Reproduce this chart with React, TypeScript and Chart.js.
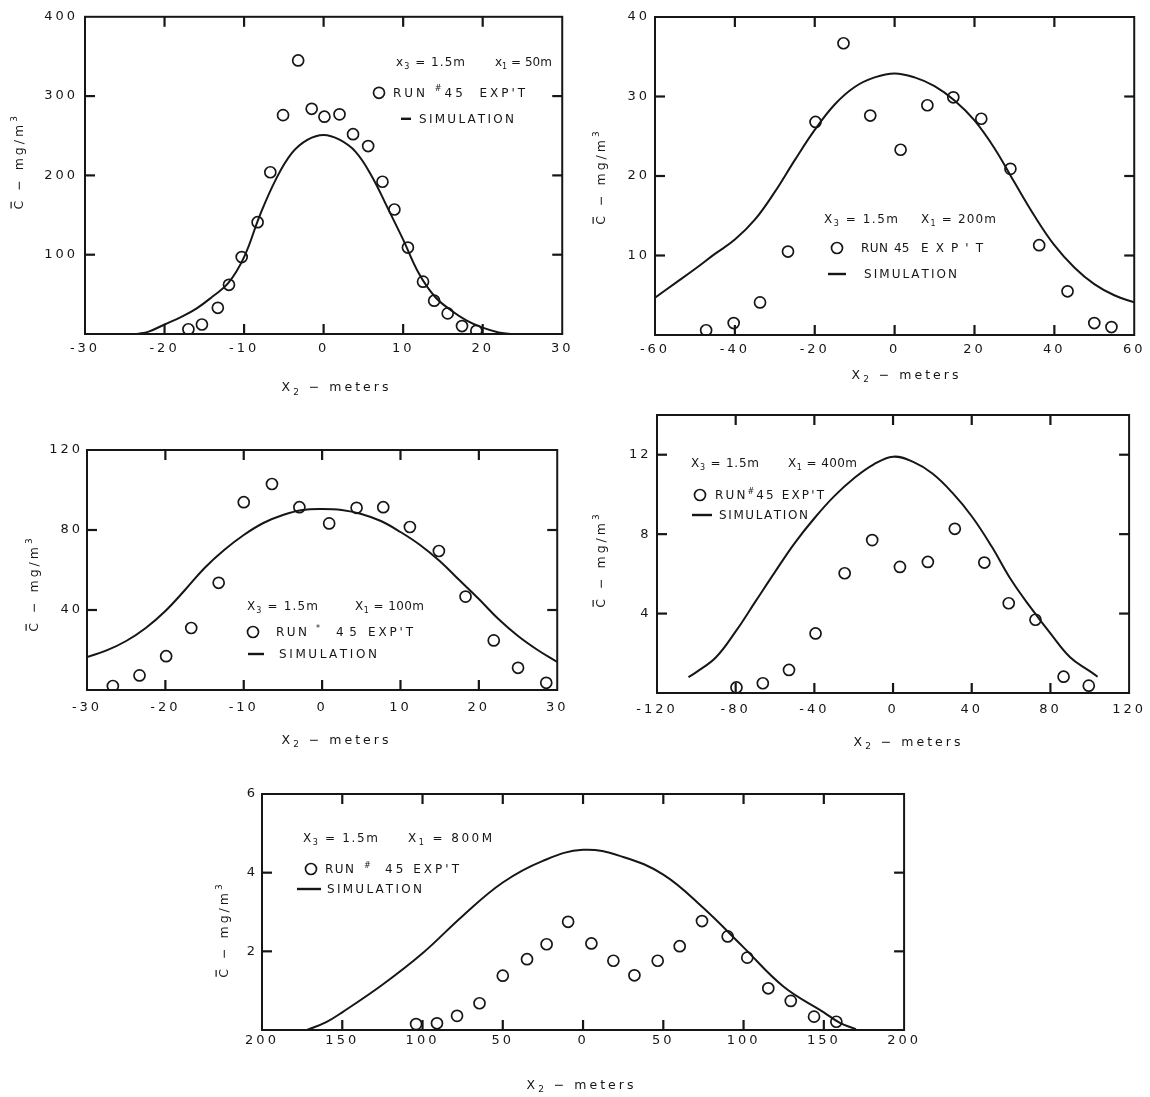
import React, { useEffect, useRef } from "react";
import { Chart, registerables } from "chart.js";

Chart.register(...registerables);

// ===== Panel A : x1 = 50 m =====
const aExpX = [-17.0, -15.3, -13.3, -11.9, -10.3, -8.3, -6.7, -5.1, -3.2, -1.5, 0.1, 2.0, 3.7, 5.6, 7.4, 8.9, 10.6, 12.5, 13.9, 15.6, 17.4, 19.2];
const aExpY = [6, 12, 33, 62, 97, 141, 204, 276, 345, 284, 274, 277, 252, 237, 192, 157, 109, 66, 42, 26, 10, 4];
const aSimX = [-23.5, -22, -20, -18, -16, -14, -12, -10, -8, -6, -4, -2, 0, 2, 4, 6, 8, 10, 12, 14, 16, 18, 20, 22, 23.5];
const aSimY = [0, 3, 12, 21, 32, 47, 64, 97, 150, 195, 228, 245, 251, 245, 230, 200, 160, 119, 76, 47, 30, 17, 8, 2, 0];
const aXTicks = [-30, -20, -10, 0, 10, 20, 30];
const aYTicks = [100, 200, 300, 400];

// ===== Panel B : x1 = 200 m =====
const bExpX = [-47.2, -40.3, -33.7, -26.7, -19.8, -12.8, -6.1, 1.5, 8.2, 14.7, 21.7, 29.0, 36.2, 43.3, 50.0, 54.3];
const bExpY = [0.6, 1.5, 4.1, 10.5, 26.8, 36.7, 27.6, 23.3, 28.9, 29.9, 27.2, 20.9, 11.3, 5.5, 1.5, 1.0];
const bSimX = [-60, -55, -50, -45, -40, -35, -30, -25, -20, -15, -10, -5, 0, 5, 10, 15, 20, 25, 30, 35, 40, 45, 50, 55, 60];
const bSimY = [4.7, 6.5, 8.3, 10.2, 12.0, 14.5, 18.0, 22.0, 25.8, 29.0, 31.2, 32.4, 32.9, 32.4, 31.3, 29.5, 27.0, 23.5, 19.2, 15.0, 11.3, 8.5, 6.4, 5.0, 4.1];
const bXTicks = [-60, -40, -20, 0, 20, 40, 60];
const bYTicks = [10, 20, 30, 40];

// ===== Panel C : x1 = 100 m =====
const cExpX = [-26.7, -23.3, -19.9, -16.7, -13.2, -10.0, -6.4, -2.9, 0.9, 4.4, 7.8, 11.2, 14.9, 18.3, 21.9, 25.0, 28.6];
const cExpY = [2.0, 7.3, 16.9, 31.0, 53.6, 93.9, 103, 91.4, 83.3, 91.1, 91.4, 81.5, 69.5, 46.7, 24.8, 11.1, 3.6];
const cSimX = [-30, -27.5, -25, -22.5, -20, -17.5, -15, -12.5, -10, -7.5, -5, -2.5, 0, 2.5, 5, 7.5, 10, 12.5, 15, 17.5, 20, 22.5, 25, 27.5, 30];
const cSimY = [16.5, 19.8, 24.5, 31, 39.5, 50, 61, 70, 77.5, 83.5, 87.5, 90, 90.5, 90, 88, 84.5, 79, 72.5, 64.5, 55, 45.5, 35.5, 27, 20, 14];
const cXTicks = [-30, -20, -10, 0, 10, 20, 30];
const cYTicks = [40, 80, 120];

// ===== Panel D : x1 = 400 m =====
const dExpX = [-79.6, -66.2, -52.9, -39.4, -24.6, -10.6, 3.5, 17.7, 31.4, 46.4, 58.8, 72.4, 86.7, 99.5];
const dExpY = [0.28, 0.49, 1.16, 3.0, 6.03, 7.7, 6.35, 6.6, 8.27, 6.57, 4.52, 3.69, 0.82, 0.37];
const dSimX = [-104, -100, -90, -80, -70, -60, -50, -40, -30, -20, -10, 0, 10, 20, 30, 40, 50, 60, 70, 80, 90, 100, 104];
const dSimY = [0.8, 1.05, 1.8, 3.1, 4.6, 6.1, 7.55, 8.8, 9.9, 10.8, 11.5, 11.9, 11.65, 11.05, 10.1, 8.9, 7.4, 5.7, 4.3, 3.0, 1.8, 1.1, 0.82];
const dXTicks = [-120, -80, -40, 0, 40, 80, 120];
const dYTicks = [4, 8, 12];

// ===== Panel E : x1 = 800 m =====
const eExpX = [-104, -91, -78.5, -64.5, -50, -34.9, -22.7, -9.3, 5.2, 18.9, 32, 46.5, 60.2, 74.1, 90.1, 102.3, 115.4, 129.4, 143.9, 157.8];
const eExpY = [0.15, 0.17, 0.36, 0.68, 1.38, 1.8, 2.18, 2.75, 2.2, 1.76, 1.39, 1.76, 2.13, 2.77, 2.38, 1.84, 1.06, 0.74, 0.34, 0.21];
const eSimX = [-172, -160, -150, -125, -100, -75, -50, -25, 0, 25, 50, 75, 100, 125, 150, 160, 170];
const eSimY = [0, 0.2, 0.45, 1.15, 1.95, 2.9, 3.75, 4.3, 4.58, 4.4, 3.95, 3.1, 2.1, 1.1, 0.45, 0.18, 0.02];
const eXTicks = [-200, -150, -100, -50, 0, 50, 100, 150, 200];
const eYTicks = [2, 4, 6];

const X_TITLE = "X_2 \u2212 meters";
const Y_TITLE = "C \u2212 mg/m^3";

const INK = "#161616";
const FONT = "DejaVu Sans";

// canvas frame sizes around each plot area
const W = 80; // y axis box width
const PT = 14; // top padding
const PR = 14; // right padding
const H = 72; // x axis box height

type Note =
  | { k: "t"; dx: number; dy: number; s: string; w?: number }
  | { k: "o"; dx: number; dy: number }
  | { k: "d"; dx: number; dy: number; len: number };

interface Cfg {
  rect: number[];
  xMin: number;
  xMax: number;
  yMin: number;
  yMax: number;
  xTicks: number[];
  yTicks: number[];
  expX: number[];
  expY: number[];
  simX: number[];
  simY: number[];
  absX?: boolean;
  yTitlePos: number[]; // offset from plot left/top
  xTitlePos: number[];
  xTickPad: number;
  yTickPad: number;
  notes: Note[];
}

const panels: Cfg[] = [
  {
    rect: [85, 16, 563, 334],
    xMin: -30, xMax: 30, yMin: 0, yMax: 400,
    xTicks: aXTicks, yTicks: aYTicks,
    expX: aExpX, expY: aExpY, simX: aSimX, simY: aSimY,
    yTitlePos: [-67, 146], xTitlePos: [250, 370], xTickPad: 6.5, yTickPad: 7,
    notes: [
      { k: "t", dx: 311, dy: 45, s: "x_3 = 1.5m", w: 69 },
      { k: "t", dx: 410, dy: 45, s: "x_1 = 50m", w: 54 },
      { k: "o", dx: 294, dy: 76 },
      { k: "t", dx: 308, dy: 76, s: "RUN ^#45  EXP'T", w: 132 },
      { k: "d", dx: 316, dy: 102, len: 10 },
      { k: "t", dx: 334, dy: 102, s: "SIMULATION", w: 95 },
    ],
  },
  {
    rect: [655, 17, 1135, 335],
    xMin: -60, xMax: 60, yMin: 0, yMax: 40,
    xTicks: bXTicks, yTicks: bYTicks,
    expX: bExpX, expY: bExpY, simX: bSimX, simY: bSimY,
    yTitlePos: [-55, 161], xTitlePos: [250, 357], xTickPad: 6.5, yTickPad: 5,
    notes: [
      { k: "t", dx: 169, dy: 202, s: "X_3 = 1.5m", w: 74 },
      { k: "t", dx: 266, dy: 202, s: "X_1 = 200m", w: 75 },
      { k: "o", dx: 182, dy: 231 },
      { k: "t", dx: 206, dy: 231, s: "RUN", w: 27 },
      { k: "t", dx: 239, dy: 231, s: "45", w: 14 },
      { k: "t", dx: 266, dy: 231, s: "EXP'T", w: 62 },
      { k: "d", dx: 173, dy: 257, len: 18 },
      { k: "t", dx: 209, dy: 257, s: "SIMULATION", w: 93 },
    ],
  },
  {
    rect: [87, 450, 561, 690],
    xMin: -30, xMax: 30, yMin: 0, yMax: 120,
    xTicks: cXTicks, yTicks: cYTicks,
    expX: cExpX, expY: cExpY, simX: cSimX, simY: cSimY,
    yTitlePos: [-54, 135], xTitlePos: [248, 289], xTickPad: 9.5, yTickPad: 4,
    notes: [
      { k: "t", dx: 160, dy: 156, s: "X_3 = 1.5m", w: 71 },
      { k: "t", dx: 268, dy: 156, s: "X_1 = 100m", w: 69 },
      { k: "o", dx: 166, dy: 182 },
      { k: "t", dx: 189, dy: 182, s: "RUN", w: 31 },
      { k: "t", dx: 229, dy: 182, s: "^*" },
      { k: "t", dx: 249, dy: 182, s: "45", w: 21 },
      { k: "t", dx: 281, dy: 182, s: "EXP'T", w: 45 },
      { k: "d", dx: 161, dy: 204, len: 16 },
      { k: "t", dx: 192, dy: 204, s: "SIMULATION", w: 98 },
    ],
  },
  {
    rect: [657, 415, 1136, 693],
    xMin: -120, xMax: 120, yMin: 0, yMax: 14,
    xTicks: dXTicks, yTicks: dYTicks,
    expX: dExpX, expY: dExpY, simX: dSimX, simY: dSimY,
    yTitlePos: [-57, 146], xTitlePos: [250, 326], xTickPad: 8.5, yTickPad: 5.5,
    notes: [
      { k: "t", dx: 34, dy: 48, s: "X_3 = 1.5m", w: 68 },
      { k: "t", dx: 131, dy: 48, s: "X_1 = 400m", w: 69 },
      { k: "o", dx: 43, dy: 80 },
      { k: "t", dx: 58, dy: 80, s: "RUN^#45 EXP'T", w: 109 },
      { k: "d", dx: 35, dy: 100, len: 20 },
      { k: "t", dx: 62, dy: 100, s: "SIMULATION", w: 89 },
    ],
  },
  {
    rect: [262, 794, 905, 1030],
    xMin: -200, xMax: 200, yMin: 0, yMax: 6,
    xTicks: eXTicks, yTicks: eYTicks,
    expX: eExpX, expY: eExpY, simX: eSimX, simY: eSimY,
    absX: true,
    yTitlePos: [-39, 137], xTitlePos: [318, 290], xTickPad: 2.5, yTickPad: 4,
    notes: [
      { k: "t", dx: 41, dy: 44, s: "X_3 = 1.5m", w: 75 },
      { k: "t", dx: 146, dy: 44, s: "X_1 = 800M", w: 84 },
      { k: "o", dx: 49, dy: 75 },
      { k: "t", dx: 63, dy: 75, s: "RUN", w: 29 },
      { k: "t", dx: 102, dy: 75, s: "^#" },
      { k: "t", dx: 123, dy: 75, s: "45 EXP'T", w: 74 },
      { k: "d", dx: 35, dy: 95, len: 24 },
      { k: "t", dx: 65, dy: 95, s: "SIMULATION", w: 95 },
    ],
  },
];

type Glyph = { c: string; m: number };

function parse(s: string): Glyph[] {
  const out: Glyph[] = [];
  let i = 0;
  while (i < s.length) {
    const ch = s[i];
    if ((ch === "_" || ch === "^") && i + 1 < s.length) {
      out.push({ c: s[i + 1], m: ch === "_" ? 1 : 2 });
      i += 2;
    } else {
      out.push({ c: ch, m: 0 });
      i += 1;
    }
  }
  return out;
}

function glyphFont(fs: number, m: number) {
  return `${m === 0 ? fs : Math.round(fs * 0.68)}px "${FONT}"`;
}

// draws text starting at x, vertically centred on y; letter spacing given or fitted to width w
function drawSpaced(
  ctx: CanvasRenderingContext2D,
  x: number,
  y: number,
  s: string,
  fs: number,
  ls: number,
  w?: number
) {
  const gl = parse(s);
  const widths = gl.map((g) => {
    ctx.font = glyphFont(fs, g.m);
    return ctx.measureText(g.c).width;
  });
  const natural = widths.reduce((p, v) => p + v, 0);
  let sp = ls;
  if (w !== undefined && gl.length > 1) sp = Math.max(0, (w - natural) / (gl.length - 1));
  let cx = x;
  gl.forEach((g, i) => {
    ctx.font = glyphFont(fs, g.m);
    const off = g.m === 0 ? fs * 0.36 : g.m === 1 ? fs * 0.62 : -fs * 0.12;
    ctx.fillText(g.c, cx, y + off);
    cx += widths[i] + sp;
  });
  return { total: cx - sp - x, first: widths[0] };
}

function measureSpaced(ctx: CanvasRenderingContext2D, s: string, fs: number, ls: number) {
  const gl = parse(s);
  let t = 0;
  gl.forEach((g, i) => {
    ctx.font = glyphFont(fs, g.m);
    t += ctx.measureText(g.c).width + (i < gl.length - 1 ? ls : 0);
  });
  return t;
}

function makeFrame(cfg: Cfg) {
  return {
    id: "frame",
    beforeDraw(chart: any) {
      (chart.ctx as any).letterSpacing = "3px";
    },
    afterDraw(chart: any) {
      const { ctx, chartArea: a, scales } = chart;
      const x = scales.x;
      const y = scales.y;
      ctx.save();
      (ctx as any).letterSpacing = "0px";
      ctx.strokeStyle = INK;
      ctx.fillStyle = INK;
      ctx.lineCap = "butt";
      ctx.lineWidth = 2;
      ctx.strokeRect(a.left, a.top, a.right - a.left, a.bottom - a.top);
      const tl = 10;
      ctx.lineWidth = 2.2;
      const seg = (x1: number, y1: number, x2: number, y2: number) => {
        ctx.beginPath();
        ctx.moveTo(x1, y1);
        ctx.lineTo(x2, y2);
        ctx.stroke();
      };
      cfg.xTicks.forEach((v) => {
        const px = x.getPixelForValue(v);
        if (px <= a.left + 2 || px >= a.right - 2) return;
        seg(px, a.bottom, px, a.bottom - tl);
        seg(px, a.top, px, a.top + tl);
      });
      cfg.yTicks.forEach((v) => {
        const py = y.getPixelForValue(v);
        if (py <= a.top + 2 || py >= a.bottom - 2) return;
        seg(a.left, py, a.left + tl, py);
        seg(a.right, py, a.right - tl, py);
      });

      ctx.textAlign = "left";
      ctx.textBaseline = "alphabetic";

      // x axis title
      {
        const fs = 12.5;
        const ls = 3;
        const tw = measureSpaced(ctx, X_TITLE, fs, ls);
        const cx = a.left + cfg.xTitlePos[0];
        const cy = a.top + cfg.xTitlePos[1];
        drawSpaced(ctx, cx - tw / 2, cy, X_TITLE, fs, ls);
      }
      // y axis title (rotated, with bar over C)
      {
        const fs = 12.5;
        const ls = 3;
        const tw = measureSpaced(ctx, Y_TITLE, fs, ls);
        const cx = a.left + cfg.yTitlePos[0];
        const cy = a.top + cfg.yTitlePos[1];
        ctx.save();
        ctx.translate(cx, cy);
        ctx.rotate(-Math.PI / 2);
        const r = drawSpaced(ctx, -tw / 2, 0, Y_TITLE, fs, ls);
        ctx.lineWidth = 1.2;
        seg(-tw / 2 + 1, -fs * 0.55, -tw / 2 + r.first - 1, -fs * 0.55);
        ctx.restore();
      }

      // legend notes
      cfg.notes.forEach((n) => {
        const nx = a.left + n.dx;
        const ny = a.top + n.dy;
        if (n.k === "t") {
          drawSpaced(ctx, nx, ny, n.s, 12, 1.3, n.w);
        } else if (n.k === "o") {
          ctx.lineWidth = 1.7;
          ctx.beginPath();
          ctx.arc(nx, ny, 5.5, 0, Math.PI * 2);
          ctx.stroke();
        } else {
          ctx.lineWidth = 2.4;
          seg(nx, ny, nx + n.len, ny);
        }
      });
      ctx.restore();
    },
  };
}

function Panel({ cfg }: { cfg: Cfg }) {
  const ref = useRef<HTMLCanvasElement | null>(null);
  const [L, T, R, B] = cfg.rect;
  const cw = W + (R - L) + PR;
  const ch = PT + (B - T) + H;

  useEffect(() => {
    const canvas = ref.current;
    if (!canvas) return;
    const tickFont = { family: FONT, size: 13 };
    const chart = new Chart(canvas, {
      type: "scatter",
      data: {
        datasets: [
          {
            label: "SIMULATION",
            data: cfg.simX.map((v, i) => ({ x: v, y: cfg.simY[i] })),
            showLine: true,
            pointRadius: 0,
            borderColor: INK,
            backgroundColor: INK,
            borderWidth: 2,
            tension: 0.4,
            fill: false,
            order: 2,
          },
          {
            label: "RUN #45 EXP'T",
            data: cfg.expX.map((v, i) => ({ x: v, y: cfg.expY[i] })),
            showLine: false,
            pointRadius: 5.5,
            pointBorderWidth: 1.7,
            pointBorderColor: INK,
            pointBackgroundColor: "rgba(255,255,255,0)",
            order: 1,
          },
        ],
      } as any,
      options: {
        responsive: false,
        animation: false,
        events: [],
        layout: { padding: { left: 0, top: PT, right: PR, bottom: 0 } },
        plugins: { legend: { display: false }, tooltip: { enabled: false } },
        scales: {
          x: {
            type: "linear",
            min: cfg.xMin,
            max: cfg.xMax,
            afterBuildTicks: (s: any) => {
              s.ticks = cfg.xTicks.map((v) => ({ value: v }));
            },
            afterFit: (s: any) => {
              s.height = H;
            },
            grid: { display: false, drawTicks: false },
            border: { display: false },
            ticks: {
              font: tickFont,
              color: INK,
              padding: cfg.xTickPad,
              maxRotation: 0,
              autoSkip: false,
              callback: (v: any) => (cfg.absX ? String(Math.abs(Number(v))) : String(v)),
            },
            title: { display: false },
          },
          y: {
            type: "linear",
            min: cfg.yMin,
            max: cfg.yMax,
            afterBuildTicks: (s: any) => {
              s.ticks = cfg.yTicks.map((v) => ({ value: v }));
            },
            afterFit: (s: any) => {
              s.width = W;
            },
            grid: { display: false, drawTicks: false },
            border: { display: false },
            ticks: {
              font: tickFont,
              color: INK,
              padding: cfg.yTickPad,
              autoSkip: false,
              callback: (v: any) => String(v),
            },
            title: { display: false },
          },
        },
      } as any,
      plugins: [makeFrame(cfg) as any],
    });
    return () => chart.destroy();
  }, []);

  return (
    <canvas
      ref={ref}
      width={cw}
      height={ch}
      style={{ position: "absolute", left: L - W, top: T - PT, width: cw, height: ch }}
    />
  );
}

export default function App() {
  return (
    <div
      style={{
        position: "absolute",
        left: 0,
        top: 0,
        width: 1150,
        height: 1097,
        overflow: "hidden",
        background: "#ffffff",
      }}
    >
      {panels.map((p, i) => (
        <Panel key={i} cfg={p} />
      ))}
    </div>
  );
}
